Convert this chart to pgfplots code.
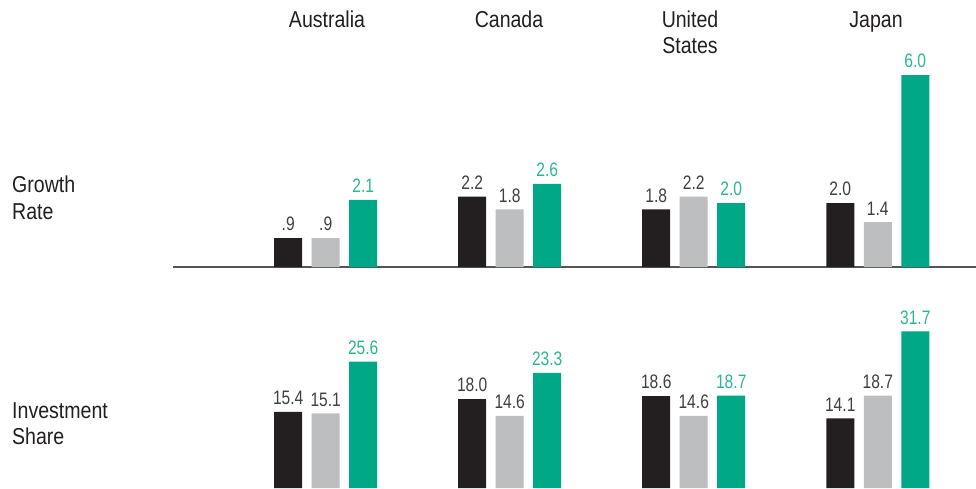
\documentclass[border=0pt]{standalone}
\usepackage{fontspec}
\setmainfont{Liberation Sans}[FakeStretch=0.85]
\newfontfamily\numfont{Liberation Sans}[FakeStretch=0.8]
\usepackage{pgfplots}
\pgfplotsset{compat=1.18}
\definecolor{cblack}{HTML}{231F20}
\definecolor{cgray}{HTML}{BCBEC0}
\definecolor{cgreen}{HTML}{00A887}
\definecolor{lgreen}{HTML}{2DB597}
\definecolor{ltext}{HTML}{404040}
\definecolor{basegray}{HTML}{555555}
\begin{document}
\begin{tikzpicture}[x=1pt,y=1pt]
\path[use as bounding box] (0,0) rectangle (976,488);
\pgfplotsset{
  mybars/.style={
    scale only axis, width=803pt,
    xmin=-0.83, xmax=3.534,
    ybar=9.5pt, bar width=28pt,
    xtick=\empty, ytick=\empty,
    clip=false,
    point meta=explicit symbolic,
    nodes near coords,
    every node near coord/.append style={font=\numfont\fontsize{19.5}{20}\selectfont, inner sep=0pt, anchor=south, yshift=7pt},
  },
  sblack/.style={fill=cblack, draw=none, every node near coord/.append style={text=ltext}},
  sgray/.style={fill=cgray, draw=none, every node near coord/.append style={text=ltext}},
  sgreen/.style={fill=cgreen, draw=none, every node near coord/.append style={text=lgreen}},
}
% Growth rate
\begin{axis}[mybars, at={(173pt,221pt)}, anchor=south west,
  height=224pt, ymin=0, ymax=7,
  axis x line=bottom, axis y line=none,
  axis line style={-, draw=basegray, line width=2pt}]
\addplot[sblack] coordinates {(0,0.9) [.9] (1,2.2) [2.2] (2,1.8) [1.8] (3,2.0) [2.0]};
\addplot[sgray] coordinates {(0,0.9) [.9] (1,1.8) [1.8] (2,2.2) [2.2] (3,1.4) [1.4]};
\addplot[sgreen] coordinates {(0,2.1) [2.1] (1,2.6) [2.6] (2,2.0) [2.0] (3,6.0) [6.0]};
\end{axis}
% Investment share
\begin{axis}[mybars, at={(173pt,0pt)}, anchor=south west,
  height=177.8pt, ymin=0, ymax=36, hide axis]
\addplot[sblack] coordinates {(0,15.4) [15.4] (1,18.0) [18.0] (2,18.6) [18.6] (3,14.1) [14.1]};
\addplot[sgray] coordinates {(0,15.1) [15.1] (1,14.6) [14.6] (2,14.6) [14.6] (3,18.7) [18.7]};
\addplot[sgreen] coordinates {(0,25.6) [25.6] (1,23.3) [23.3] (2,18.7) [18.7] (3,31.7) [31.7]};
\end{axis}
\begin{scope}[every node/.style={font=\fontsize{23}{26}\selectfont, text=cblack, inner sep=0pt}]
\node[anchor=base] at (327,460) {Australia};
\node[anchor=base] at (509,460) {Canada};
\node[anchor=base] at (690,460) {United};
\node[anchor=base] at (690,434) {States};
\node[anchor=base] at (876,460) {Japan};
\node[anchor=base west] at (12,295) {Growth};
\node[anchor=base west] at (12,269) {Rate};
\node[anchor=base west] at (12,70) {Investment};
\node[anchor=base west] at (12,44) {Share};
\end{scope}
\end{tikzpicture}
\end{document}
